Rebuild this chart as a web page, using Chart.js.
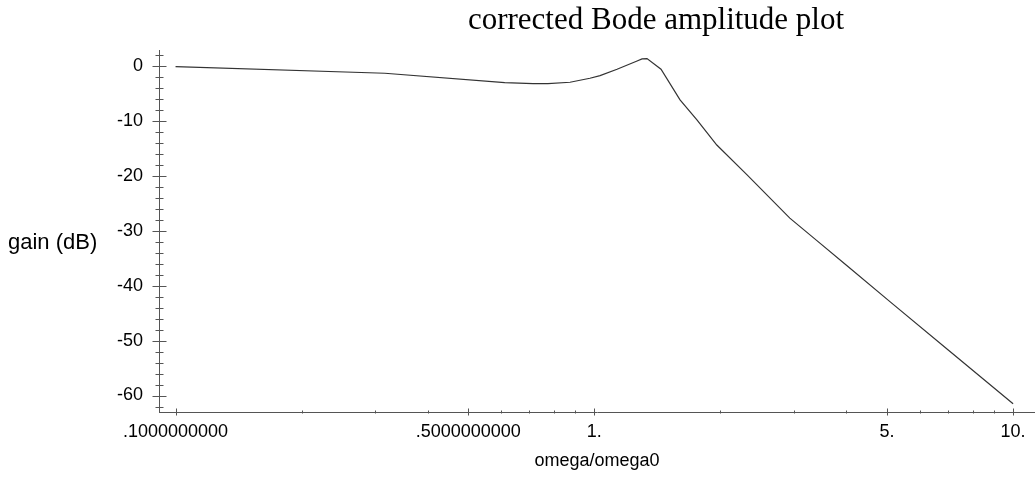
<!DOCTYPE html>
<html>
<head>
<meta charset="utf-8">
<script src="https://cdn.jsdelivr.net/npm/chart.js@4"></script>
<style>
  html, body { margin: 0; padding: 0; background: #fff; }
</style>
</head>
<body>
<canvas id="bode" width="1035" height="478"></canvas>
<script>
// frequency ratio and corrected gain
const omega = [0.1, 0.316, 0.611, 0.714, 0.775, 0.875, 0.976, 1.032, 1.133, 1.265, 1.30, 1.336, 1.443, 1.602, 1.758, 1.961, 2.313, 2.93, 3.4, 4.0, 5.08, 7.0, 10];
const gainDb = [-0.13, -1.33, -3.04, -3.22, -3.22, -2.97, -2.24, -1.77, -0.60, 0.91, 1.27, 1.33, -0.60, -6.19, -9.83, -14.4, -19.8, -27.7, -31.8, -36.3, -42.9, -51.7, -61.5];

const xMajorTicks = [0.1, 0.5, 1, 5, 10];
const xTickLabels = ['.1000000000', '.5000000000', '1.', '5.', '10.'];
const xMinorTicks = [0.2, 0.3, 0.4, 0.6, 0.7, 0.8, 0.9, 2, 3, 4, 6, 7, 8, 9];

const yMajorTicks = [0, -10, -20, -30, -40, -50, -60];
const yTickLabels = ['0', '-10', '-20', '-30', '-40', '-50', '-60'];
const yMinorTicks = [2, -2, -4, -6, -8, -12, -14, -16, -18, -22, -24, -26, -28, -32, -34, -36, -38, -42, -44, -46, -48, -52, -54, -56, -58, -62];

const chartTitle = 'corrected Bode amplitude plot';
const xTitle = 'omega/omega0';
const yTitle = 'gain (dB)';

const axisColor = '#555';
const sans = "'Liberation Sans', Arial, sans-serif";

// tick marks crossing the axes, plus the free-standing labels
const decorations = {
  id: 'decorations',
  afterDraw(chart) {
    const { ctx, scales: { x, y }, chartArea } = chart;
    ctx.save();
    ctx.strokeStyle = axisColor;
    ctx.lineWidth = 1;
    const ax = Math.round(chartArea.left) + 0.5;
    const ay = Math.round(chartArea.bottom) + 0.5;

    const yTick = (v, half) => {
      const py = Math.round(y.getPixelForValue(v)) + 0.5;
      ctx.beginPath();
      ctx.moveTo(ax - half, py);
      ctx.lineTo(ax + half, py);
      ctx.stroke();
    };
    yMajorTicks.forEach(v => yTick(v, 7));
    yMinorTicks.forEach(v => yTick(v, 4));

    const xTick = (v, up, down) => {
      const px = Math.round(x.getPixelForValue(v)) + 0.5;
      ctx.beginPath();
      ctx.moveTo(px, ay - up);
      ctx.lineTo(px, ay + down);
      ctx.stroke();
    };
    xMajorTicks.forEach(v => xTick(v, 4, 3));
    xMinorTicks.forEach(v => xTick(v, 2, 1));

    ctx.fillStyle = '#000';
    ctx.textBaseline = 'middle';
    ctx.textAlign = 'left';
    ctx.font = '22px ' + sans;
    ctx.fillText(yTitle, 8, 243);

    ctx.textAlign = 'center';
    ctx.font = "31px 'Liberation Serif', 'Times New Roman', serif";
    ctx.fillText(chartTitle, 656, 21);
    ctx.restore();
  }
};

new Chart(document.getElementById('bode'), {
  type: 'line',
  data: {
    datasets: [{
      data: omega.map((w, i) => ({ x: w, y: gainDb[i] })),
      borderColor: '#333',
      borderWidth: 1.2,
      pointRadius: 0,
      tension: 0,
      fill: false
    }]
  },
  options: {
    responsive: false,
    animation: false,
    devicePixelRatio: 1,
    layout: { padding: { top: 50, right: 0, left: 0, bottom: 0 } },
    plugins: {
      legend: { display: false },
      tooltip: { enabled: false }
    },
    scales: {
      x: {
        type: 'logarithmic',
        min: 0.0913,
        max: 11.28,
        afterBuildTicks: (scale) => { scale.ticks = xMajorTicks.map(v => ({ value: v })); },
        afterFit: (scale) => { scale.height = 66; },
        grid: { display: false, drawTicks: false },
        border: { display: true, color: axisColor, width: 1 },
        ticks: {
          autoSkip: false,
          maxRotation: 0,
          padding: 9,
          color: '#000',
          font: { family: sans, size: 18 },
          callback: (value, index) => xTickLabels[index]
        },
        title: {
          display: true,
          text: xTitle,
          color: '#000',
          font: { family: sans, size: 18 },
          padding: { top: 4, bottom: 6 }
        }
      },
      y: {
        min: -63,
        max: 2.9,
        afterBuildTicks: (scale) => { scale.ticks = yMajorTicks.map(v => ({ value: v })); },
        afterFit: (scale) => { scale.width = 159; },
        grid: { display: false, drawTicks: false },
        border: { display: true, color: axisColor, width: 1 },
        ticks: {
          padding: 16,
          color: '#000',
          font: { family: sans, size: 18 },
          callback: (value, index) => yTickLabels[index]
        }
      }
    }
  },
  plugins: [decorations]
});
</script>
</body>
</html>
